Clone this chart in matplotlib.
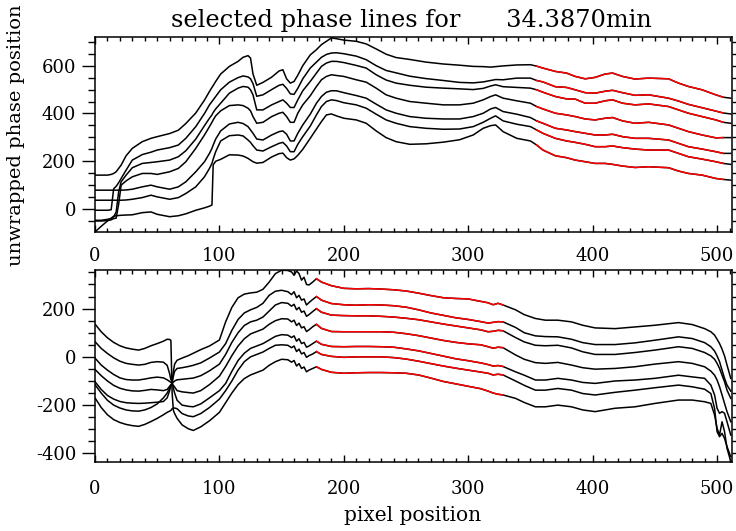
import matplotlib
matplotlib.use("Agg")
import matplotlib.pyplot as plt
import numpy as np
from matplotlib.ticker import MultipleLocator

plt.rcParams['font.family'] = ['DejaVu Serif']
plt.rcParams['axes.unicode_minus'] = False

TITLE = "selected phase lines for      34.3870min"

# ---------------- top panel ----------------
X_TOP = [0, 5, 10, 13, 15, 17, 19, 21, 25, 30,
         38, 45, 50, 60, 67, 73, 81, 88, 92, 94,
         95, 97, 101, 108, 115, 119, 123, 125, 127, 130,
         135, 142, 148, 151, 154, 157, 160, 163, 167, 173,
         178, 182, 186, 190, 194, 200, 210, 218, 226, 234,
         242, 253, 266, 280, 293, 304, 312, 318, 322, 328,
         339, 350, 355, 360, 370, 379, 386, 394, 402, 410,
         416, 424, 434, 445, 461, 469, 477, 488, 499, 505,
         511]

T1 = [142, 142, 142, 145, 149, 156, 170, 184, 223, 254,
      282, 296, 303, 316, 330, 358, 402, 456, 492, 509,
      517, 534, 565, 597, 618, 635, 642, 632, 565, 518,
      530, 552, 578, 583, 545, 527, 534, 560, 600, 645,
      667, 688, 702, 716, 713, 707, 702, 691, 670, 648,
      634, 626, 615, 607, 602, 597, 596, 594, 596, 599,
      603, 604, 598, 590, 576, 569, 555, 545, 551, 565,
      569, 555, 544, 548, 545, 527, 513, 499, 478, 468,
      464]
T2 = [-5, -5, -5, -3, 85, 95, 110, 128, 163, 205,
      228, 238, 247, 257, 268, 296, 345, 400, 436, 450,
      457, 471, 499, 531, 550, 557, 553, 545, 525, 472,
      478, 500, 518, 522, 505, 482, 480, 505, 545, 590,
      615, 635, 647, 653, 654, 650, 640, 625, 600, 580,
      570, 556, 546, 538, 530, 528, 532, 538, 542, 541,
      548, 548, 538, 532, 512, 509, 499, 487, 485, 493,
      497, 487, 476, 478, 464, 452, 438, 424, 410, 402,
      398]
T3 = [-47, -47, -43, -40, -33, -12, 72, 114, 142, 173,
      191, 195, 198, 205, 219, 244, 293, 349, 380, 394,
      404, 419, 443, 485, 506, 513, 510, 499, 478, 415,
      415, 436, 450, 457, 443, 425, 425, 457, 495, 534,
      569, 597, 611, 618, 618, 613, 601, 590, 562, 540,
      527, 518, 510, 506, 503, 500, 505, 515, 520, 512,
      509, 506, 499, 489, 471, 461, 460, 443, 443, 453,
      457, 443, 436, 440, 429, 415, 401, 387, 373, 363,
      359]
T4 = [-50, -50, -48, -45, -40, -38, 20, 100, 118, 135,
      149, 149, 145, 156, 170, 198, 254, 310, 345, 363,
      373, 390, 411, 433, 436, 433, 422, 411, 387, 359,
      363, 387, 401, 405, 387, 363, 363, 401, 436, 474,
      513, 541, 555, 562, 559, 555, 541, 531, 506, 478,
      464, 450, 443, 436, 436, 443, 457, 471, 478, 464,
      453, 443, 429, 419, 401, 394, 387, 377, 373, 380,
      383, 369, 359, 363, 352, 338, 324, 310, 298, 299,
      299]
T5 = [79, 79, 79, 79, 79, 79, 79, 79, 80, 83,
      93, 100, 93, 83, 93, 114, 156, 198, 233, 254,
      268, 293, 327, 356, 363, 358, 345, 331, 317, 293,
      289, 310, 324, 327, 313, 285, 285, 317, 352, 397,
      443, 471, 489, 495, 495, 487, 475, 464, 439, 415,
      401, 387, 380, 377, 377, 387, 401, 419, 425, 408,
      397, 383, 369, 359, 338, 331, 324, 317, 310, 310,
      313, 303, 296, 296, 289, 275, 261, 251, 240, 233,
      233]
T6 = [37, 37, 37, 37, 37, 37, 37, 37, 38, 41,
      48, 58, 51, 41, 48, 65, 93, 135, 170, 191,
      209, 240, 285, 307, 310, 306, 289, 279, 265, 247,
      243, 261, 275, 279, 264, 240, 240, 271, 303, 347,
      394, 429, 450, 457, 454, 445, 436, 422, 397, 373,
      359, 345, 338, 334, 335, 345, 363, 380, 390, 369,
      355, 345, 331, 317, 296, 285, 279, 271, 261, 261,
      264, 257, 251, 247, 247, 233, 219, 209, 198, 191,
      187]
T7 = [-96, -72, -50, -38, -30, -28, -27, -26, -25, -24,
      -15, -12, -22, -32, -28, -20, -5, 5, 12, 17,
      185, 200, 208, 227, 226, 222, 212, 205, 198, 192,
      195, 218, 232, 234, 215, 205, 210, 225, 250, 296,
      335, 366, 394, 398, 390, 380, 373, 359, 327, 299,
      282, 271, 273, 280, 290, 310, 338, 349, 352, 324,
      296, 285, 268, 247, 223, 215, 205, 198, 191, 191,
      187, 180, 174, 177, 173, 159, 149, 142, 128, 124,
      121]
TOP_LINES = [T1, T2, T3, T4, T5, T6, T7]
TOP_RED = (355, 505)

# ---------------- bottom panel ----------------
X_BOT = [0, 5, 10, 15, 20, 25, 30, 35, 40, 45,
         50, 55, 58, 60, 61, 62, 63, 64, 66, 70,
         75, 79, 85, 92, 100, 105, 110, 115, 120, 125,
         130, 135, 140, 145, 150, 155, 158, 160, 162, 164,
         166, 168, 170, 172, 175, 178, 182, 190, 200, 210,
         220, 230, 240, 250, 260, 270, 280, 290, 300, 310,
         316, 320, 324, 328, 338, 345, 354, 362, 372, 383,
         392, 402, 418, 434, 450, 469, 480, 490, 495, 498,
         500, 502, 504, 506, 508, 511]

B1 = [63, 35, 14, -4, -18, -27, -31, -34, -31, -23,
      -20, -22, -35, -70, -95, -100, -60, -30, -14, -5,
      5, 15, 30, 45, 70, 145, 205, 245, 260, 265,
      268, 280, 310, 345, 359, 358, 352, 338, 356, 345,
      318, 330, 300, 298, 310, 324, 310, 295, 284, 282,
      283, 281, 278, 273, 264, 254, 245, 242, 240, 230,
      224, 216, 222, 215, 195, 175, 159, 152, 152, 145,
      131, 120, 117, 124, 131, 142, 134, 117, 104, 90,
      73, 55, 32, 4, -34, -89]
B2 = [-5, -34, -55, -73, -87, -94, -96, -96, -92, -87,
      -84, -87, -95, -102, -106, -108, -80, -60, -48, -45,
      -40, -35, -25, -5, 20, 55, 110, 155, 182, 195,
      205, 222, 255, 272, 276, 270, 258, 270, 245, 255,
      235, 240, 215, 225, 238, 250, 235, 221, 216, 214,
      216, 215, 212, 206, 195, 182, 172, 162, 155, 146,
      140, 143, 146, 145, 122, 100, 87, 84, 83, 73,
      59, 51, 51, 58, 69, 83, 76, 59, 42, 24,
      4, -20, -55, -89, -117, -142]
B3 = [-52, -78, -100, -118, -130, -137, -141, -142, -139, -135,
      -137, -140, -135, -122, -115, -112, -105, -100, -95, -93,
      -90, -88, -78, -58, -30, 10, 60, 100, 130, 145,
      152, 165, 190, 215, 225, 222, 210, 218, 195, 205,
      185, 190, 168, 175, 188, 200, 185, 173, 171, 170,
      170, 168, 165, 160, 154, 145, 136, 128, 120, 112,
      104, 106, 110, 108, 80, 62, 48, 46, 48, 37,
      21, 10, 10, 18, 28, 42, 35, 18, 4, -10,
      -27, -48, -76, -103, -138, -172]
B4 = [-103, -135, -160, -175, -185, -190, -192, -193, -192, -190,
      -188, -185, -170, -140, -120, -112, -118, -125, -140, -145,
      -148, -150, -140, -115, -80, -40, 5, 45, 75, 95,
      105, 115, 135, 150, 158, 157, 145, 152, 130, 140,
      120, 125, 105, 112, 125, 135, 118, 105, 104, 104,
      104, 104, 102, 96, 88, 78, 68, 60, 54, 50,
      42, 36, 40, 38, 8, -10, -24, -27, -23, -34,
      -45, -51, -48, -41, -30, -20, -27, -41, -59, -76,
      -96, -124, -158, -193, -227, -269]
B5 = [-115, -150, -180, -200, -212, -220, -224, -225, -220, -210,
      -195, -170, -150, -130, -118, -110, -130, -150, -180, -200,
      -205, -207, -195, -170, -140, -110, -60, -15, 15, 35,
      45, 55, 70, 85, 92, 90, 80, 87, 65, 75,
      55, 60, 40, 45, 55, 65, 52, 43, 42, 43,
      43, 42, 40, 33, 25, 14, 3, -8, -16, -25,
      -32, -38, -36, -40, -62, -76, -96, -96, -89, -96,
      -106, -110, -100, -96, -89, -76, -83, -89, -117, -158,
      -213, -234, -227, -234, -269, -324]
B6 = [-170, -210, -240, -260, -272, -280, -285, -288, -280, -268,
      -255, -240, -230, -225, -222, -215, -212, -212, -215, -235,
      -245, -248, -235, -210, -175, -140, -100, -55, -20, 0,
      10, 20, 35, 48, 50, 48, 38, 45, 22, 32,
      12, 18, -2, 5, 12, 22, 10, 2, -2, 0,
      0, 0, -3, -9, -18, -28, -38, -47, -55, -63,
      -68, -75, -72, -75, -100, -118, -138, -138, -131, -138,
      -152, -158, -147, -138, -128, -117, -124, -134, -152, -214,
      -310, -331, -317, -338, -372, -414]
B7 = [136, 104, 79, 60, 46, 37, 32, 28, 35, 46,
      55, 65, 73, 72, 68, -150, -222, -235, -255, -282,
      -298, -305, -290, -265, -230, -190, -150, -115, -90, -75,
      -65, -55, -35, -20, -10, -12, -22, -15, -38, -28,
      -48, -42, -62, -55, -48, -41, -52, -64, -68, -66,
      -65, -65, -66, -68, -75, -88, -102, -112, -122, -132,
      -142, -150, -155, -158, -172, -189, -207, -207, -200, -207,
      -220, -227, -213, -207, -193, -179, -179, -186, -193, -241,
      -296, -324, -269, -310, -379, -434]
BOT_LINES = [B1, B2, B3, B4, B5, B6, B7]
BOT_RED = (178, 328)

W, H = 736, 531
fig = plt.figure(figsize=(W / 100, H / 100), dpi=100)
ax1 = fig.add_axes([95 / W, 1 - 232 / H, 637 / W, 195 / H])
ax2 = fig.add_axes([95 / W, 1 - 462.3 / H, 637 / W, 192.3 / H])


def draw(ax, xs, lines, red):
    x = np.asarray(xs, float)
    m = (x >= red[0]) & (x <= red[1])
    for ys in lines:
        y = np.asarray(ys, float)
        ax.plot(x, y, color='black', lw=1.1, solid_joinstyle='round')
        ax.plot(x[m], y[m], color='#ff0000', lw=1.1, solid_joinstyle='round')


def style(ax, ylim, xpad):
    ax.set_xlim(0, 512)
    ax.set_ylim(*ylim)
    ax.xaxis.set_major_locator(MultipleLocator(100))
    ax.xaxis.set_minor_locator(MultipleLocator(10))
    ax.yaxis.set_major_locator(MultipleLocator(200))
    ax.yaxis.set_minor_locator(MultipleLocator(50))
    ax.tick_params(axis='x', which='both', direction='in', top=True, bottom=True,
                   labelsize=13, pad=xpad, width=1.0, color='black')
    ax.tick_params(axis='x', which='major', length=5)
    ax.tick_params(axis='x', which='minor', length=3)
    ax.tick_params(axis='y', which='both', direction='out', left=True, right=True,
                   labelsize=13, pad=4, width=1.0)
    ax.tick_params(axis='y', which='major', length=9.5)
    ax.tick_params(axis='y', which='minor', length=5)
    for s in ax.spines.values():
        s.set_linewidth(1.1)


draw(ax1, X_TOP, TOP_LINES, TOP_RED)
draw(ax2, X_BOT, BOT_LINES, BOT_RED)
style(ax1, (-96, 720), 10.5)
style(ax2, (-437, 360), 13)

fig.text(411 / W, 1 - 27 / H, TITLE, ha='center', va='baseline', fontsize=17.4)
fig.text(16 / W, 1 - 135 / H, "unwrapped phase position", rotation=90,
         ha='center', va='center', fontsize=14)
fig.text(413 / W, 1 - 521 / H, "pixel position", ha='center', va='baseline', fontsize=14.5)

fig.savefig("out.png", dpi=100)
